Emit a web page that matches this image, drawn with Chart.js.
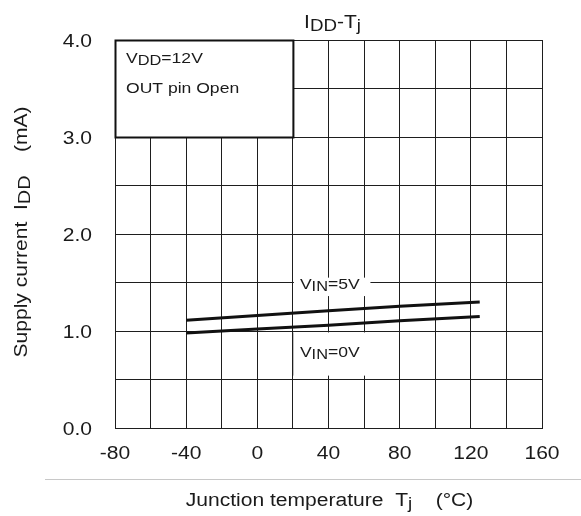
<!DOCTYPE html>
<html>
<head>
<meta charset="utf-8">
<title>IDD-Tj</title>
<script src="https://cdn.jsdelivr.net/npm/chart.js@4/dist/chart.umd.min.js"></script>
<style>
  html, body { margin: 0; padding: 0; background: #fff; }
  canvas { display: block; }
</style>
</head>
<body>
<canvas id="chart-idd" width="581" height="516"></canvas>
<script>
  // junction temperature (°C) and supply current (mA) for both input states
  const tempTj = [-40, 0, 40, 80, 125];
  const iddVin5 = [1.11, 1.16, 1.21, 1.255, 1.30];
  const iddVin0 = [0.98, 1.02, 1.06, 1.105, 1.15];

  const xTicks = [-80, -40, 0, 40, 80, 120, 160];
  const yTicks = [0, 1, 2, 3, 4];

  const FONT = '"Liberation Sans", Arial, sans-serif';
  const INK = '#1a1a1a';
  const SX = 1.17; // the glyphs here run wide

  // "T_{j}" -> parts, braces part set lower as a subscript
  function parse(str, size, subSize, dy) {
    const parts = [];
    str.split(/(_\{[^}]*\})/).forEach(s => {
      if (!s) return;
      if (s.startsWith('_{')) parts.push({ text: s.slice(2, -1), size: subSize, dy });
      else parts.push({ text: s, size, dy: 0 });
    });
    return parts;
  }

  function drawRich(ctx, str, x, y, opts) {
    const o = Object.assign({ size: 18, align: 'left', angle: 0, dy: 3 }, opts);
    const parts = parse(str, o.size, o.subSize || o.size - 2, o.dy);
    ctx.save();
    ctx.translate(x, y);
    if (o.angle) ctx.rotate(o.angle);
    let w = 0;
    parts.forEach(p => { ctx.font = p.size + 'px ' + FONT; w += ctx.measureText(p.text).width * SX; });
    let cx = o.align === 'center' ? -w / 2 : o.align === 'right' ? -w : 0;
    ctx.textAlign = 'left';
    ctx.textBaseline = 'alphabetic';
    ctx.fillStyle = INK;
    parts.forEach(p => {
      ctx.font = p.size + 'px ' + FONT;
      ctx.save();
      ctx.translate(cx, p.dy);
      ctx.scale(SX, 1);
      ctx.fillText(p.text, 0, 0);
      ctx.restore();
      cx += ctx.measureText(p.text).width * SX;
    });
    ctx.restore();
  }

  const noteBox = { x0: -80, x1: 20, y0: 3, y1: 4 };
  const curveLabels = [
    { text: 'V_{IN}=5V', x: 20, y: 1.43, box: [20, 63, 1.36, 1.55] },
    { text: 'V_{IN}=0V', x: 20, y: 0.73, box: [20, 63, 0.54, 0.985] }
  ];

  const decorations = {
    id: 'decorations',
    afterDraw(chart) {
      const { ctx, chartArea: a, scales: { x, y } } = chart;
      ctx.save();

      // conditions box
      const bx0 = x.getPixelForValue(noteBox.x0), bx1 = x.getPixelForValue(noteBox.x1);
      const by0 = y.getPixelForValue(noteBox.y1), by1 = y.getPixelForValue(noteBox.y0);
      ctx.fillStyle = '#fff';
      ctx.fillRect(bx0, by0, bx1 - bx0, by1 - by0);
      ctx.strokeStyle = '#111';
      ctx.lineWidth = 2;
      ctx.strokeRect(bx0 + 0.5, by0 + 0.5, bx1 - bx0, by1 - by0);
      drawRich(ctx, 'V_{DD}=12V', bx0 + 11, by0 + 23, { size: 15, subSize: 14, dy: 2 });
      drawRich(ctx, 'OUT pin Open', bx0 + 11, by0 + 52.5, { size: 15 });

      // curve labels on white patches
      curveLabels.forEach(l => {
        const [x0, x1, y0, y1] = l.box;
        const px0 = x.getPixelForValue(x0), px1 = x.getPixelForValue(x1);
        const py0 = y.getPixelForValue(y1), py1 = y.getPixelForValue(y0);
        ctx.fillStyle = '#fff';
        ctx.fillRect(px0 + 1, py0, px1 - px0, py1 - py0);
        drawRich(ctx, l.text, x.getPixelForValue(l.x) + 7, y.getPixelForValue(l.y), { size: 15, subSize: 14, dy: 2 });
      });
      // faint edge left on the lower patch
      ctx.strokeStyle = '#c0c0c0';
      ctx.lineWidth = 1;
      const ex = Math.round(x.getPixelForValue(20)) + 0.5;
      ctx.beginPath();
      ctx.moveTo(ex, y.getPixelForValue(0.985));
      ctx.lineTo(ex, y.getPixelForValue(0.54));
      ctx.stroke();

      // tick labels
      xTicks.forEach(v => drawRich(ctx, String(v), x.getPixelForValue(v), a.bottom + 31, { align: 'center' }));
      yTicks.forEach(v => drawRich(ctx, v.toFixed(1), a.left - 23, y.getPixelForValue(v) + 6.5, { align: 'right' }));

      // titles
      const midX = (a.left + a.right) / 2;
      drawRich(ctx, 'I_{DD}-T_{j}', midX + 4, 28, { align: 'center', subSize: 16 });
      drawRich(ctx, 'Junction temperature  T_{j}    (°C)', midX + 1, 506, { align: 'center', subSize: 16 });
      drawRich(ctx, 'Supply current  I_{DD}    (mA)', 27, (a.top + a.bottom) / 2 - 2,
        { align: 'center', angle: -Math.PI / 2, subSize: 17 });

      // separator under the tick labels
      ctx.strokeStyle = '#c8c8c8';
      ctx.lineWidth = 1;
      ctx.beginPath();
      ctx.moveTo(45, 479.5);
      ctx.lineTo(581, 479.5);
      ctx.stroke();
      ctx.restore();
    }
  };

  const gridStyle = { color: '#1e1e1e', lineWidth: 1, drawTicks: false };

  new Chart(document.getElementById('chart-idd'), {
    type: 'line',
    data: {
      datasets: [
        {
          label: 'VIN=5V',
          data: tempTj.map((t, i) => ({ x: t, y: iddVin5[i] })),
          borderColor: '#111',
          borderWidth: 3,
          pointRadius: 0,
          tension: 0
        },
        {
          label: 'VIN=0V',
          data: tempTj.map((t, i) => ({ x: t, y: iddVin0[i] })),
          borderColor: '#111',
          borderWidth: 3,
          pointRadius: 0,
          tension: 0
        }
      ]
    },
    options: {
      responsive: false,
      animation: false,
      layout: { padding: { left: 115, right: 39, top: 40, bottom: 88 } },
      plugins: { legend: { display: false }, tooltip: { enabled: false } },
      scales: {
        x: {
          type: 'linear',
          min: -80,
          max: 160,
          ticks: { stepSize: 20, display: false },
          grid: gridStyle,
          border: { color: '#1e1e1e', width: 1 }
        },
        y: {
          min: 0,
          max: 4,
          ticks: { stepSize: 0.5, display: false },
          grid: gridStyle,
          border: { color: '#1e1e1e', width: 1 }
        }
      }
    },
    plugins: [decorations]
  });
</script>
</body>
</html>
